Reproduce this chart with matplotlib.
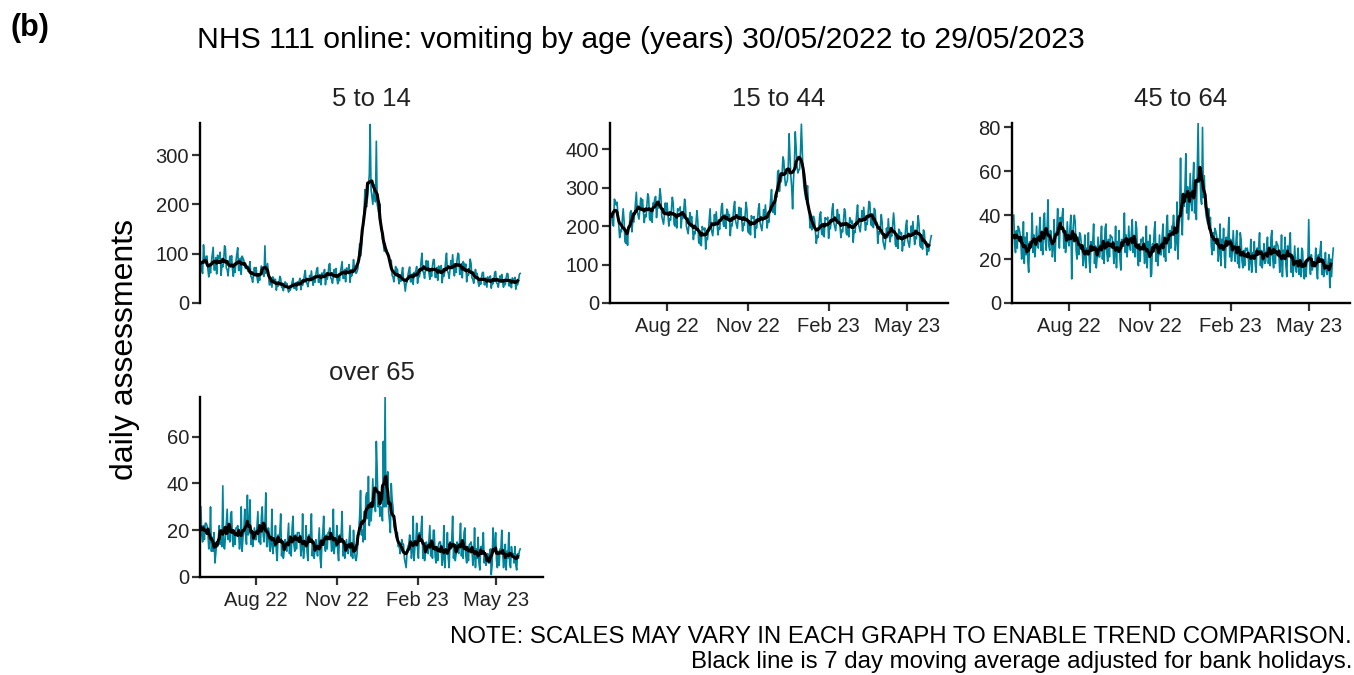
import matplotlib
matplotlib.use("Agg")
import matplotlib.pyplot as plt
import matplotlib.dates as mdates
import numpy as np
import pandas as pd

plt.rcParams['font.family'] = ['Liberation Sans', 'DejaVu Sans']

# daily NHS 111 online vomiting assessments, 30/05/2022 to 29/05/2023, one row per week (Mon..Sun)
age_5_14 = [
    78, 66, 60, 118, 90, 80, 95,
    95, 68, 53, 72, 61, 84, 99,
    113, 67, 67, 92, 59, 97, 92,
    90, 103, 56, 77, 73, 86, 116,
    111, 71, 67, 55, 75, 95, 79,
    96, 69, 54, 73, 62, 85, 100,
    112, 66, 66, 91, 58, 95, 91,
    86, 74, 70, 75, 68, 64, 72,
    84, 54, 51, 42, 57, 72, 60,
    72, 52, 41, 55, 46, 64, 75,
    68, 58, 54, 116, 60, 70, 80,
    62, 37, 37, 51, 32, 53, 50,
    42, 48, 26, 36, 34, 40, 54,
    50, 32, 31, 25, 34, 43, 37,
    40, 29, 22, 30, 26, 35, 42,
    50, 30, 30, 41, 26, 43, 39,
    44, 50, 27, 38, 36, 42, 57,
    66, 42, 40, 33, 45, 56, 47,
    65, 47, 36, 49, 42, 57, 68,
    72, 42, 42, 58, 37, 61, 58,
    60, 68, 37, 51, 48, 57, 78,
    80, 51, 48, 40, 54, 68, 57,
    70, 50, 39, 53, 45, 62, 73,
    84, 50, 50, 68, 43, 71, 68,
    68, 78, 42, 59, 55, 65, 88,
    70, 62, 60, 64, 70, 95, 120,
    95, 110, 140, 160, 185, 230, 200,
    195, 215, 240, 260, 362, 230, 215,
    200, 225, 240, 205, 328, 200, 190,
    180, 200, 160, 150, 130, 120, 105,
    120, 110, 105, 100, 95, 85, 80,
    87, 56, 53, 43, 59, 74, 62,
    69, 50, 39, 52, 44, 61, 72,
    47, 40, 24, 40, 42, 56, 66,
    73, 43, 43, 59, 38, 62, 59,
    65, 74, 40, 56, 53, 62, 84,
    101, 65, 61, 50, 68, 86, 72,
    85, 61, 48, 65, 54, 75, 88,
    88, 52, 52, 72, 46, 75, 72,
    66, 76, 41, 57, 54, 63, 85,
    101, 65, 61, 50, 68, 86, 72,
    98, 70, 55, 74, 62, 86, 101,
    99, 58, 58, 80, 51, 84, 80,
    69, 79, 43, 59, 56, 66, 89,
    80, 51, 48, 40, 54, 68, 57,
    60, 43, 34, 46, 38, 53, 62,
    62, 37, 37, 51, 32, 53, 50,
    48, 55, 30, 41, 39, 46, 62,
    64, 41, 39, 32, 44, 55, 46,
    58, 41, 32, 44, 37, 51, 60,
    59, 35, 35, 48, 31, 51, 48,
    45, 52, 28, 39, 37, 43, 58,
    60,
]

age_15_44 = [
    225, 205, 200, 270, 265, 255, 262,
    230, 200, 170, 190, 185, 215, 245,
    215, 160, 155, 185, 150, 200, 195,
    235, 240, 185, 215, 210, 230, 260,
    288, 238, 228, 218, 243, 273, 248,
    269, 239, 209, 229, 224, 254, 284,
    275, 220, 215, 245, 210, 260, 255,
    272, 277, 222, 252, 247, 267, 297,
    275, 225, 215, 205, 230, 260, 235,
    260, 230, 200, 220, 215, 245, 275,
    260, 205, 200, 230, 195, 245, 240,
    245, 250, 195, 225, 220, 240, 270,
    250, 200, 190, 180, 205, 235, 210,
    225, 195, 165, 185, 180, 210, 240,
    214, 159, 154, 184, 149, 199, 194,
    190, 195, 140, 170, 165, 185, 215,
    245, 195, 185, 175, 200, 230, 205,
    237, 207, 177, 197, 192, 222, 252,
    259, 204, 199, 229, 194, 244, 239,
    225, 230, 175, 205, 200, 220, 250,
    264, 214, 204, 194, 219, 249, 224,
    247, 217, 187, 207, 202, 232, 262,
    242, 187, 182, 212, 177, 227, 222,
    220, 225, 170, 200, 195, 215, 245,
    258, 208, 198, 188, 213, 243, 218,
    255, 225, 195, 215, 210, 240, 270,
    295, 240, 235, 265, 230, 280, 275,
    340, 345, 290, 320, 315, 335, 380,
    370, 325, 305, 312, 318, 355, 440,
    380, 330, 300, 245, 320, 360, 445,
    405, 356, 338, 345, 349, 394, 465,
    400, 330, 300, 285, 270, 280, 305,
    255, 230, 195, 215, 190, 225, 225,
    215, 185, 155, 175, 170, 200, 230,
    237, 182, 177, 207, 172, 222, 217,
    218, 223, 168, 198, 193, 213, 243,
    258, 208, 198, 188, 213, 243, 218,
    230, 200, 170, 190, 185, 215, 245,
    237, 182, 177, 207, 172, 222, 217,
    208, 213, 158, 188, 183, 203, 233,
    255, 205, 195, 185, 210, 240, 215,
    249, 219, 189, 209, 204, 234, 264,
    261, 206, 201, 231, 196, 246, 241,
    205, 210, 155, 185, 180, 200, 230,
    210, 160, 150, 140, 165, 195, 170,
    219, 189, 159, 179, 174, 204, 234,
    207, 152, 147, 177, 142, 192, 187,
    178, 183, 135, 158, 150, 170, 202,
    215, 165, 155, 145, 170, 200, 175,
    212, 182, 152, 172, 167, 197, 227,
    205, 150, 145, 175, 140, 190, 185,
    155, 160, 125, 140, 135, 150, 164,
    175,
]

age_45_64 = [
    40, 27, 23, 33, 25, 35, 34,
    32, 28, 20, 24, 37, 18, 30,
    22, 32, 19, 14, 28, 25, 28,
    41, 23, 31, 21, 26, 35, 26,
    25, 33, 39, 24, 29, 22, 38,
    41, 28, 24, 34, 47, 26, 24,
    33, 29, 21, 25, 38, 19, 31,
    33, 43, 30, 25, 39, 36, 39,
    43, 25, 33, 23, 28, 37, 28,
    26, 34, 40, 11, 30, 36, 40,
    37, 24, 20, 30, 22, 32, 31,
    27, 24, 17, 21, 31, 16, 25,
    22, 32, 19, 14, 28, 25, 28,
    36, 18, 26, 16, 21, 30, 21,
    21, 29, 35, 20, 25, 18, 34,
    36, 23, 19, 29, 21, 31, 30,
    30, 26, 18, 22, 35, 16, 28,
    23, 33, 20, 15, 29, 26, 29,
    41, 23, 31, 21, 26, 35, 26,
    24, 32, 38, 23, 28, 21, 37,
    34, 21, 17, 27, 19, 29, 28,
    30, 26, 18, 22, 35, 16, 28,
    21, 31, 12, 13, 27, 24, 33,
    37, 19, 27, 17, 22, 31, 22,
    22, 30, 36, 21, 26, 19, 35,
    40, 27, 23, 33, 25, 35, 34,
    40, 33, 24, 28, 46, 20, 33,
    43, 66, 38, 31, 48, 44, 52,
    68, 41, 53, 38, 45, 59, 46,
    42, 55, 64, 41, 49, 38, 61,
    82, 55, 62, 48, 45, 80, 48,
    58, 45, 40, 38, 36, 43, 34,
    39, 26, 22, 32, 24, 34, 33,
    31, 27, 19, 23, 36, 17, 29,
    24, 34, 21, 16, 30, 27, 30,
    39, 21, 29, 19, 24, 33, 24,
    19, 27, 33, 18, 23, 16, 32,
    29, 19, 16, 24, 17, 25, 24,
    25, 22, 15, 19, 29, 14, 23,
    20, 28, 18, 14, 25, 23, 26,
    32, 17, 24, 16, 20, 27, 18,
    19, 25, 30, 18, 22, 17, 30,
    33, 20, 16, 26, 18, 28, 27,
    26, 22, 14, 18, 31, 12, 24,
    20, 30, 17, 12, 26, 23, 26,
    32, 14, 22, 12, 17, 26, 17,
    14, 20, 25, 13, 17, 12, 25,
    24, 14, 11, 19, 12, 20, 19,
    38, 17, 13, 22, 15, 17, 18,
    17, 25, 15, 11, 22, 19, 24,
    28, 13, 20, 12, 16, 23, 14,
    13, 18, 22, 7, 20, 12, 20,
    25,
]

age_over_65 = [
    30, 18, 15, 22, 16, 23, 23,
    22, 19, 12, 15, 30, 11, 17,
    11, 19, 6, 10, 15, 13, 17,
    22, 14, 20, 13, 39, 13, 12,
    17, 23, 29, 16, 20, 15, 27,
    28, 16, 13, 20, 14, 21, 21,
    22, 19, 12, 15, 30, 11, 17,
    20, 29, 18, 14, 35, 18, 20,
    33, 14, 20, 13, 16, 21, 16,
    16, 22, 28, 15, 19, 14, 26,
    30, 18, 15, 22, 36, 13, 13,
    21, 18, 11, 14, 29, 10, 16,
    13, 22, 11, 7, 18, 15, 19,
    27, 9, 15, 8, 11, 16, 12,
    11, 17, 23, 10, 14, 9, 21,
    26, 14, 11, 18, 12, 19, 19,
    19, 16, 9, 12, 27, 8, 14,
    13, 22, 11, 7, 18, 15, 19,
    27, 9, 15, 8, 11, 16, 12,
    9, 15, 21, 8, 4, 15, 19,
    26, 14, 11, 18, 12, 19, 19,
    21, 18, 11, 14, 29, 10, 16,
    13, 22, 11, 7, 18, 15, 19,
    28, 9, 15, 8, 11, 16, 11,
    10, 16, 22, 9, 13, 8, 20,
    12, 8, 7, 10, 15, 20, 26,
    37, 18, 20, 15, 28, 16, 34,
    36, 25, 43, 22, 30, 24, 30,
    42, 30, 33, 28, 58, 45, 30,
    36, 26, 30, 28, 24, 58, 30,
    77, 30, 34, 45, 28, 24, 19,
    40, 33, 30, 22, 20, 20, 17,
    19, 13, 14, 10, 12, 16, 14,
    14, 8, 6, 4, 11, 13, 14,
    18, 15, 8, 11, 26, 7, 13,
    14, 23, 12, 8, 19, 16, 20,
    26, 8, 14, 7, 10, 15, 11,
    10, 16, 22, 9, 13, 8, 20,
    20, 9, 6, 13, 7, 14, 15,
    15, 12, 5, 8, 22, 4, 11,
    10, 19, 8, 4, 15, 12, 16,
    26, 8, 14, 7, 10, 15, 11,
    10, 16, 23, 9, 13, 8, 19,
    21, 9, 6, 13, 7, 14, 14,
    15, 12, 5, 8, 21, 4, 12,
    8, 17, 6, 3, 13, 10, 13,
    19, 6, 10, 5, 7, 10, 6,
    6, 12, 1, 5, 21, 12, 13,
    19, 7, 4, 11, 5, 12, 12,
    20, 11, 4, 7, 14, 3, 11,
    8, 19, 6, 4, 13, 10, 10,
    6, 13, 5, 3, 10, 8, 11,
    12,
]

panel_titles = ["5 to 14", "15 to 44", "45 to 64", "over 65"]
panel_series = [age_5_14, age_15_44, age_45_64, age_over_65]
y_ticks = [[0, 100, 200, 300], [0, 100, 200, 300, 400], [0, 20, 40, 60, 80], [0, 20, 40, 60]]
y_tops = [365, 468, 82, 77]
x_tick_dates = ["2022-08-01", "2022-11-01", "2023-02-01", "2023-05-01"]

dates = pd.date_range("2022-05-30", "2023-05-29", freq="D")

W, H = 1354, 675
fig = plt.figure(figsize=(W / 100, H / 100), dpi=100)


def px_rect(l, t, r, b):
    return [l / W, 1 - b / H, (r - l) / W, (b - t) / H]


# left, top, right, bottom in pixels; extra days shown either side
boxes = [(200, 123, 543, 303), (610, 123, 948, 303), (1012, 123, 1350, 303), (200, 397, 543, 577)]
pads = [(1, 26), (2, 19), (2, 19), (1, 26)]
teal = "#00849b"

for i in range(4):
    ax = fig.add_axes(px_rect(*boxes[i]))
    s = pd.Series(panel_series[i], index=dates)
    ma = s.rolling(7, center=True, min_periods=4).mean().iloc[:-3]
    ax.plot(s.index, s.values, color=teal, lw=1.2, zorder=2)
    ax.plot(ma.index, ma.values, color="black", lw=2.2, zorder=3)

    ax.set_ylim(0, y_tops[i])
    ax.set_yticks(y_ticks[i])
    ax.set_xlim(dates[0] - pd.Timedelta(days=pads[i][0]), dates[-1] + pd.Timedelta(days=pads[i][1]))
    ax.set_xticks(pd.to_datetime(x_tick_dates))
    ax.xaxis.set_major_formatter(mdates.DateFormatter("%b %y"))

    for side in ["top", "right"]:
        ax.spines[side].set_visible(False)
    ax.spines["left"].set_linewidth(1.7)
    ax.spines["bottom"].set_linewidth(1.7)
    ax.tick_params(axis="both", length=6, width=1.6, color="#333333",
                   labelsize=14.5, labelcolor="#222222")
    ax.tick_params(axis="y", pad=2)
    ax.tick_params(axis="x", pad=4)
    if i == 0:
        ax.spines["bottom"].set_visible(False)
        ax.tick_params(axis="x", bottom=False, labelbottom=False)
    ax.set_title(panel_titles[i], fontsize=18.5, color="#222222", pad=12)

fig.text(10 / W, 1 - 28 / H, "(b)", fontsize=22, fontweight="bold", va="center", ha="left")
fig.text(197 / W, 1 - 40 / H, "NHS 111 online: vomiting by age (years) 30/05/2022 to 29/05/2023",
         fontsize=21.7, va="center", ha="left")
fig.text(125 / W, 1 - 350 / H, "daily assessments", fontsize=23, rotation=90, va="center", ha="center")
fig.text(1352 / W, 1 - 637 / H, "NOTE: SCALES MAY VARY IN EACH GRAPH TO ENABLE TREND COMPARISON.",
         fontsize=17.3, va="center", ha="right")
fig.text(1352 / W, 1 - 662 / H, "Black line is 7 day moving average adjusted for bank holidays.",
         fontsize=17.3, va="center", ha="right")

fig.savefig("out.png", dpi=100)
